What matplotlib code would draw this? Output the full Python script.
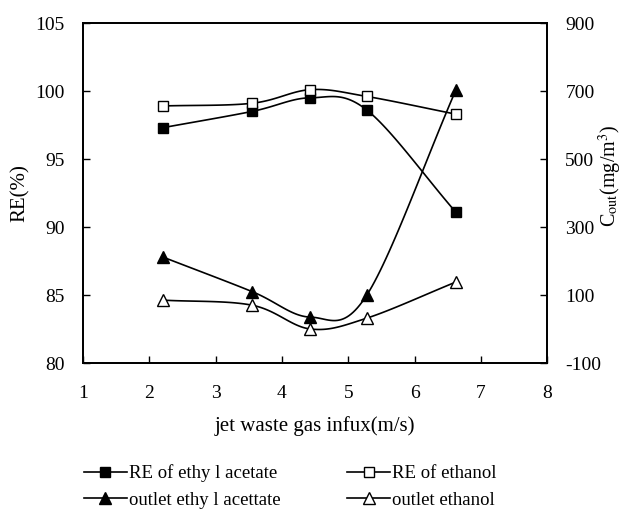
import numpy as np
import matplotlib
matplotlib.use("Agg")
import matplotlib.pyplot as plt
from matplotlib.lines import Line2D

# =========================
# DATA
# =========================
speed = [2.2, 3.55, 4.43, 5.28, 6.62]
re_ethyl_acetate = [97.3, 98.5, 99.5, 98.6, 91.1]
re_ethanol = [98.9, 99.1, 100.1, 99.6, 98.3]
out_ethyl_acetate = [212, 110, 35, 100, 702]
out_ethanol = [85, 70, 0, 32, 138]

legend_labels = ["RE of ethy l acetate", "RE of ethanol",
                 "outlet ethy l acettate", "outlet ethanol"]


# =========================
# SMOOTH LINE (like excel)
# =========================
def smooth(x, y, n=30):
    x = np.asarray(x, float)
    y = np.asarray(y, float)
    px = np.concatenate([[2 * x[0] - x[1]], x, [2 * x[-1] - x[-2]]])
    py = np.concatenate([[2 * y[0] - y[1]], y, [2 * y[-1] - y[-2]]])
    xs, ys = [], []
    for i in range(1, len(px) - 2):
        t = np.linspace(0, 1, n)
        p0x, p1x, p2x, p3x = px[i - 1:i + 3]
        p0y, p1y, p2y, p3y = py[i - 1:i + 3]
        c1x = p1x + (p2x - p0x) / 6
        c1y = p1y + (p2y - p0y) / 6
        c2x = p2x - (p3x - p1x) / 6
        c2y = p2y - (p3y - p1y) / 6
        b = lambda a, b1, c, d: ((1 - t) ** 3 * a + 3 * (1 - t) ** 2 * t * b1
                                 + 3 * (1 - t) * t ** 2 * c + t ** 3 * d)
        xs.append(b(p1x, c1x, c2x, p2x))
        ys.append(b(p1y, c1y, c2y, p2y))
    return np.concatenate(xs), np.concatenate(ys)


plt.rcParams["font.family"] = ["Liberation Serif", "DejaVu Serif"]
plt.rcParams["mathtext.fontset"] = "stix"
plt.rcParams["axes.unicode_minus"] = False

fig = plt.figure(figsize=(6.26, 5.09), dpi=100)
ax = fig.add_axes([0.1326, 0.2868, 0.7416, 0.6680])
ax2 = ax.twinx()

ax.plot(*smooth(speed, re_ethyl_acetate), color="black", lw=1.2)
ax.plot(speed, re_ethyl_acetate, "s", color="black", ms=7.3, mfc="black")
ax.plot(*smooth(speed, re_ethanol), color="black", lw=1.2)
ax.plot(speed, re_ethanol, "s", color="black", ms=7.3, mfc="white")

ax2.plot(*smooth(speed, out_ethyl_acetate), color="black", lw=1.2)
ax2.plot(speed, out_ethyl_acetate, "^", color="black", ms=8.5, mfc="black")
ax2.plot(*smooth(speed, out_ethanol), color="black", lw=1.2)
ax2.plot(speed, out_ethanol, "^", color="black", ms=8.5, mfc="white")

ax.set_xlim(1, 8)
ax.set_ylim(80, 105)
ax2.set_ylim(-100, 900)
ax.set_xticks(range(1, 9))
ax.set_yticks(range(80, 106, 5))
ax2.set_yticks(range(-100, 901, 200))

for a in (ax, ax2):
    a.tick_params(direction="in", length=5, width=1, labelsize=14)
    for s in a.spines.values():
        s.set_linewidth(1.3)
ax.tick_params(axis="x", pad=16)
ax.tick_params(axis="y", pad=13)
ax2.tick_params(axis="y", pad=13)

ax.set_xlabel("jet waste gas infux(m/s)", fontsize=15, labelpad=10)
ax.set_ylabel("RE(%)", fontsize=15)
ax.yaxis.set_label_coords(-0.114, 0.5)
ax2.set_ylabel(r"C$_{\mathrm{out}}$(mg/m$^{3}$)", fontsize=14.5)
ax2.yaxis.set_label_coords(1.107, 0.55)

handles = [
    Line2D([], [], color="black", marker="s", mfc="black", ms=6.5, lw=1.2),
    Line2D([], [], color="black", marker="^", mfc="black", ms=8, lw=1.2),
    Line2D([], [], color="black", marker="s", mfc="white", ms=6.5, lw=1.2),
    Line2D([], [], color="black", marker="^", mfc="white", ms=8, lw=1.2),
]
labels = [legend_labels[0], legend_labels[2], legend_labels[1], legend_labels[3]]
fig.legend(handles, labels, ncol=2, frameon=False, fontsize=13.5,
           loc="lower left", bbox_to_anchor=(0.107, -0.033),
           handlelength=2.3, handletextpad=0.1, columnspacing=3.55,
           labelspacing=0.5)

fig.savefig("out.png", dpi=100)
